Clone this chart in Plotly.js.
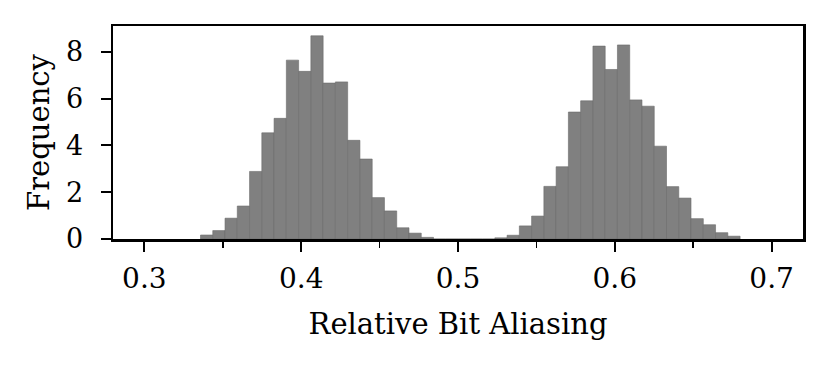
<!DOCTYPE html>
<html>
<head>
<meta charset="utf-8">
<script src="https://cdn.plot.ly/plotly-3.0.1.min.js"></script>
<style>
  html, body { margin: 0; padding: 0; background: #fff; }
  #chart { width: 830px; height: 366px; }
</style>
</head>
<body>
<div id="chart"></div>
<script>
// histogram bins (density)
var binStart = 0.3358;
var binWidth = 0.00782;
var density = [
  0.17, 0.36, 0.89, 1.41, 2.89, 4.54, 5.16, 7.65, 7.17, 8.69,
  6.67, 6.72, 4.22, 3.42, 1.77, 1.20, 0.48, 0.25, 0.07, 0,
  0, 0, 0, 0, 0.05, 0.16, 0.56, 0.98, 2.25, 3.09,
  5.43, 5.91, 8.25, 7.25, 8.30, 5.95, 5.68, 3.97, 2.24, 1.75,
  0.87, 0.61, 0.27, 0.12
];
var xTicks = [0.3, 0.4, 0.5, 0.6, 0.7];
var yTicks = [0, 2, 4, 6, 8];

var centers = [];
for (var i = 0; i < density.length; i++) {
  centers.push(binStart + (i + 0.5) * binWidth);
}

var trace = {
  type: 'bar',
  x: centers,
  y: density,
  width: binWidth,
  marker: {
    color: '#808080',
    line: { color: '#6a6a6a', width: 0.6 }
  },
  hoverinfo: 'x+y'
};

var font = { family: 'DejaVu Serif, serif', color: '#000', size: 29 };

var layout = {
  width: 830,
  height: 366,
  margin: { l: 113, r: 27, t: 26, b: 127 },
  paper_bgcolor: '#fff',
  plot_bgcolor: '#fff',
  font: font,
  showlegend: false,
  bargap: 0,
  xaxis: {
    range: [0.28, 0.72],
    tickvals: xTicks,
    ticktext: xTicks.map(function(v){ return v.toFixed(1); }),
    ticks: 'outside',
    ticklen: 10,
    tickwidth: 2,
    tickcolor: '#000',
    ticklabelstandoff: 3,
    minor: { dtick: 0.05, tick0: 0.05, ticks: 'outside', ticklen: 6, tickwidth: 1.5, tickcolor: '#000' },
    showgrid: false,
    zeroline: false,
    showline: true,
    linecolor: '#000',
    linewidth: 2.5,
    mirror: true,
    tickfont: { size: 28 },
    title: { text: 'Relative Bit Aliasing', font: { size: 29 }, standoff: 20 }
  },
  yaxis: {
    range: [0, 9.11],
    tickvals: yTicks,
    ticks: 'outside',
    ticklen: 10,
    tickwidth: 2,
    tickcolor: '#000',
    ticklabelstandoff: 12,
    showgrid: false,
    zeroline: false,
    showline: true,
    linecolor: '#000',
    linewidth: 2.5,
    mirror: true,
    tickfont: { size: 27 },
    title: { text: 'Frequency', font: { size: 29 }, standoff: 8 }
  }
};

Plotly.newPlot('chart', [trace], layout, { displayModeBar: false, staticPlot: true });
</script>
</body>
</html>
